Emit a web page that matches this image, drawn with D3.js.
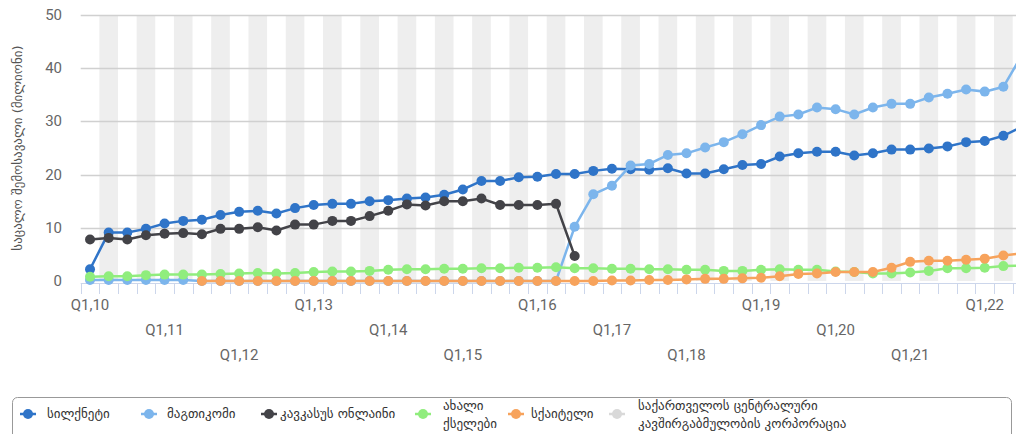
<!DOCTYPE html>
<html>
<head>
<meta charset="utf-8">
<script src="https://cdn.jsdelivr.net/npm/d3@7"></script>
<style>
  body { margin: 0; background: #fff; }
  svg { display: block; overflow: hidden; }
</style>
</head>
<body>
<div id="chart"></div>
<script>
// quarters Q1 2010 .. Q3 2022
const years = ["10","11","12","13","14","15","16","17","18","19","20","21","22"];
const quarters = ["Q1","Q2","Q3","Q4"];
const categories = [];
years.forEach(y => quarters.forEach(q => categories.push(q + "," + y)));
categories.splice(51); // last shown quarter is Q3,22

const tickLabels = ["Q1,10","Q1,11","Q1,12","Q1,13","Q1,14","Q1,15","Q1,16",
                    "Q1,17","Q1,18","Q1,19","Q1,20","Q1,21","Q1,22"];
const yTicks = [0, 10, 20, 30, 40, 50];

const silknet = [2.2, 9.1, 9.1, 9.8, 10.8, 11.3, 11.5, 12.4, 13.0, 13.2, 12.7, 13.7, 14.3, 14.5,
  14.5, 15.0, 15.2, 15.5, 15.7, 16.2, 17.2, 18.8, 18.8, 19.5, 19.6, 20.1, 20.1, 20.7, 21.1, 21.0, 20.9, 21.2,
  20.2, 20.2, 21.0, 21.8, 22.0, 23.4, 24.0, 24.3, 24.3, 23.6, 24.0, 24.7, 24.7, 24.9, 25.3, 26.1, 26.3, 27.3, 29.0];

const magticom = [0.2, 0.2, 0.2, 0.2, 0.2, 0.2,
  0, 0, 0, 0, 0, 0, 0, 0, 0, 0, 0, 0, 0, 0, 0, 0, 0, 0, 0, 0,
  10.2, 16.3, 17.9, 21.7, 22.0, 23.7,
  24.0, 25.1, 26.1, 27.6, 29.3, 30.9, 31.3, 32.6, 32.3, 31.3, 32.6, 33.3, 33.3, 34.5, 35.2, 36.0, 35.6, 36.5, 42.5];

const caucasus = [7.8, 8.1, 7.8, 8.6, 8.9, 9.0, 8.8, 9.8, 9.8, 10.1, 9.5, 10.6, 10.6, 11.3,
  11.3, 12.2, 13.2, 14.4, 14.2, 15.0, 15.0, 15.5, 14.3, 14.3, 14.3, 14.5, 4.7,
  null, null, null, null, null, null, null, null, null, null, null, null,
  null, null, null, null, null, null, null, null, null, null, null, null];

const newNetworks = [0.8, 0.9, 0.9, 1.1, 1.2, 1.2, 1.2, 1.3, 1.4, 1.5, 1.4, 1.5, 1.7, 1.8,
  1.8, 1.9, 2.1, 2.2, 2.2, 2.3, 2.3, 2.4, 2.4, 2.5, 2.5, 2.6, 2.4, 2.4, 2.3, 2.3, 2.2, 2.2,
  2.1, 2.1, 1.9, 1.9, 2.1, 2.2, 2.1, 2.1, 1.8, 1.7, 1.4, 1.4, 1.6, 1.9, 2.4, 2.4, 2.5, 2.8, 2.9];

const skytel = [null, null, null, null, null, null,
  0, 0, 0, 0, 0, 0, 0, 0, 0, 0, 0, 0, 0, 0, 0, 0, 0, 0, 0, 0, 0, 0,
  0.1, 0.1, 0.2, 0.2,
  0.3, 0.4, 0.4, 0.5, 0.6, 0.9, 1.3, 1.4, 1.7, 1.7, 1.7, 2.5, 3.6, 3.8, 3.8, 4.0, 4.2, 4.8, 5.2];

const centralCorp = [];

const series = [
  { name: ["სილქნეტი"], color: "#2f74c8", values: silknet },
  { name: ["მაგთიკომი"], color: "#7cb5ec", values: magticom },
  { name: ["კავკასუს ონლაინი"], color: "#434348", values: caucasus },
  { name: ["ახალი", "ქსელები"], color: "#90ed7d", values: newNetworks },
  { name: ["სქაიტელი"], color: "#f7a35c", values: skytel },
  { name: ["საქართველოს ცენტრალური", "კავშირგაბმულობის კორპორაცია"], color: "#d9d9d9", values: centralCorp }
];

const width = 1016, height = 434;
const plotLeft = 80.7, step = 18.64;
const plotTop = 15, plotBottom = 281;

const svg = d3.select("#chart").append("svg")
    .attr("width", width)
    .attr("height", height)
    .style("font-family", "'Liberation Sans Narrow', 'Roboto', sans-serif");

const x = d3.scaleBand()
    .domain(categories)
    .range([plotLeft, plotLeft + step * categories.length])
    .padding(0);

const y = d3.scaleLinear()
    .domain([0, 50])
    .range([plotBottom, plotTop]);

const cx = c => x(c) + x.bandwidth() / 2;

// alternate bands
svg.append("g").selectAll("rect")
    .data(categories.filter((c, i) => i % 2 == 1))
    .enter().append("rect")
    .attr("x", d => x(d))
    .attr("y", plotTop)
    .attr("width", x.bandwidth())
    .attr("height", plotBottom - plotTop)
    .attr("fill", "#eeeeee");

// horizontal grid
svg.append("g").selectAll("line")
    .data(yTicks.filter(d => d > 0))
    .enter().append("line")
    .attr("x1", plotLeft)
    .attr("x2", width)
    .attr("y1", d => Math.round(y(d)) + 0.5)
    .attr("y2", d => Math.round(y(d)) + 0.5)
    .attr("stroke", "#d0d0d0")
    .attr("stroke-width", 1.5);

// y labels
svg.append("g").selectAll("text")
    .data(yTicks)
    .enter().append("text")
    .attr("x", 62)
    .attr("y", d => y(d) + 5)
    .attr("text-anchor", "end")
    .attr("fill", "#666")
    .style("font-size", "15px")
    .text(d => d);

svg.append("text")
    .attr("transform", "translate(22," + ((plotTop + plotBottom) / 2) + ") rotate(-90)")
    .attr("text-anchor", "middle")
    .attr("fill", "#555")
    .style("font-family", "'DejaVu Sans', sans-serif")
    .style("font-size", "13px")
    .text("საცალო შემოსავალი (მილიონი)");

// x axis: line, tick marks between categories, staggered labels
const axisY = plotBottom + 2;
const xAxis = svg.append("g");
xAxis.append("line")
    .attr("x1", plotLeft)
    .attr("x2", width)
    .attr("y1", axisY + 0.5)
    .attr("y2", axisY + 0.5)
    .attr("stroke", "#ccd6eb");
xAxis.selectAll(".tick")
    .data(categories)
    .enter().append("line")
    .attr("class", "tick")
    .attr("x1", d => Math.round(x(d)) + 0.5)
    .attr("x2", d => Math.round(x(d)) + 0.5)
    .attr("y1", axisY)
    .attr("y2", axisY + 11)
    .attr("stroke", "#ccd6eb");
xAxis.selectAll(".label")
    .data(tickLabels)
    .enter().append("text")
    .attr("class", "label")
    .attr("x", d => cx(d))
    .attr("y", (d, i) => 310 + (i % 3) * 25)
    .attr("text-anchor", "middle")
    .attr("fill", "#666")
    .style("font-size", "15px")
    .text(d => d);

// series
const line = d3.line()
    .defined(d => d.v != null)
    .x(d => cx(d.c))
    .y(d => y(d.v));

series.forEach(s => {
    const pts = s.values.map((v, i) => ({ c: categories[i], v: v }));
    const g = svg.append("g");
    g.append("path")
        .datum(pts)
        .attr("d", line)
        .attr("fill", "none")
        .attr("stroke", s.color)
        .attr("stroke-width", 2.5);
    g.selectAll("circle")
        .data(pts.filter(d => d.v != null))
        .enter().append("circle")
        .attr("cx", d => cx(d.c))
        .attr("cy", d => y(d.v))
        .attr("r", 5)
        .attr("fill", s.color);
});

// legend
const legend = svg.append("g");
legend.append("rect")
    .attr("x", 12.5)
    .attr("y", 397.5)
    .attr("width", 999)
    .attr("height", 60)
    .attr("rx", 5)
    .attr("fill", "#fff")
    .attr("stroke", "#999");

const legendX = [28, 149, 269, 423, 516, 617];
const legendTextX = [47, 167, 280, 443, 531, 638];
const item = legend.selectAll(".item")
    .data(series)
    .enter().append("g")
    .attr("class", "item");
item.append("line")
    .attr("x1", (d, i) => legendX[i] - 8)
    .attr("x2", (d, i) => legendX[i] + 8)
    .attr("y1", 414)
    .attr("y2", 414)
    .attr("stroke", d => d.color)
    .attr("stroke-width", 2.5);
item.append("circle")
    .attr("cx", (d, i) => legendX[i])
    .attr("cy", 414)
    .attr("r", 5)
    .attr("fill", d => d.color);
item.each(function (d, i) {
    const t = d3.select(this).append("text")
        .attr("x", legendTextX[i])
        .attr("y", d.name.length > 1 ? 410 : 418)
        .attr("fill", "#333")
        .style("font-family", "'DejaVu Sans', sans-serif")
        .style("font-size", "13px");
    d.name.forEach((n, k) => {
        t.append("tspan")
            .attr("x", legendTextX[i])
            .attr("dy", k == 0 ? 0 : 18)
            .text(n);
    });
});
</script>
</body>
</html>
